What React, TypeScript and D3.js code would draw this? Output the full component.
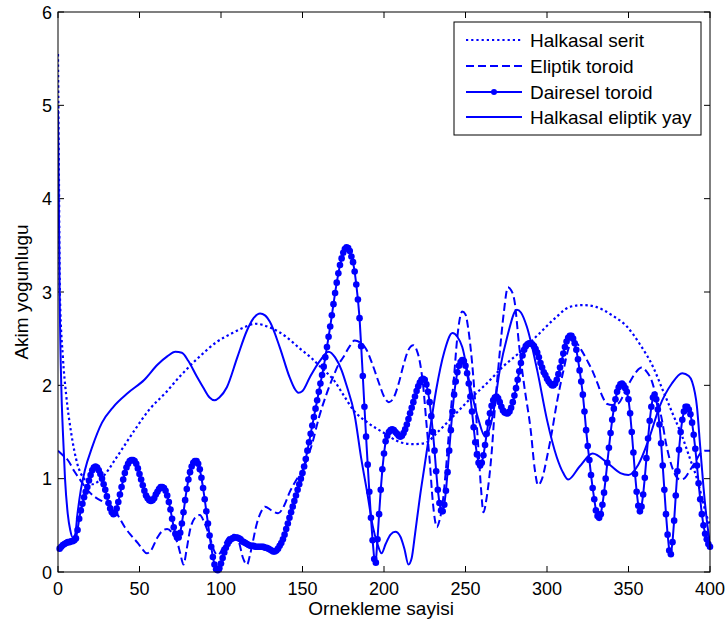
import React from "react";
import * as d3 from "d3";

const WIDTH = 728;
const HEIGHT = 626;
const PLOT = { left: 58, right: 710, top: 12, bottom: 572 };

const xTicks = [0, 50, 100, 150, 200, 250, 300, 350, 400];
const yTicks = [0, 1, 2, 3, 4, 5, 6];
const xLabel = "Ornekleme sayisi";
const yLabel = "Akim yogunlugu";
const seriesNames = ["Halkasal serit", "Eliptik toroid", "Dairesel toroid", "Halkasal eliptik yay"];

// Halkasal serit (dotted) — read key points [sample, value]
const halkasalSerit: [number, number][] = [
  [0, 5.55], [0.5, 4.4], [1.2, 2.95], [3, 2.3], [5, 1.9], [8, 1.5], [12, 1.15], [16, 1.0], [21, 0.94],
  [28, 1.03], [36, 1.23], [47, 1.52], [56, 1.74], [66, 1.92], [75, 2.1], [87, 2.31], [97, 2.46],
  [107, 2.56], [114, 2.62], [121, 2.66], [130, 2.62], [140, 2.52], [148, 2.4], [155, 2.3], [162, 2.18],
  [169, 2.06], [175, 1.9], [181, 1.74], [190, 1.6], [200, 1.49], [210, 1.39], [218, 1.37], [225, 1.38],
  [233, 1.5], [242, 1.66], [252, 1.84], [263, 2.02], [273, 2.2], [283, 2.35], [295, 2.55], [305, 2.72],
  [314, 2.84], [322, 2.86], [330, 2.84], [340, 2.75], [349, 2.63], [357, 2.44], [365, 2.2], [371, 1.95],
  [377, 1.7], [383, 1.45], [388, 1.2], [392, 1.0], [395, 0.8], [398, 0.6], [400, 0.5],
];

// Eliptik toroid (dashed)
const eliptikToroid: [number, number][] = [
  [0, 1.3], [3, 1.25], [6, 1.2], [10, 1.08], [13.5, 0.99], [18, 0.88], [23, 0.8], [28, 0.75], [33, 0.7],
  [37, 0.6], [41, 0.48], [45, 0.39], [49, 0.31], [52, 0.24], [54.5, 0.2], [57, 0.23], [61, 0.37],
  [64, 0.44], [67, 0.46], [70, 0.42], [73.5, 0.3], [75, 0.2], [77, 0.08], [79, 0.25], [81, 0.45],
  [84, 0.58], [87, 0.61], [90, 0.52], [93, 0.38], [96, 0.22], [98, 0.18], [100, 0.22], [102, 0.3],
  [105, 0.38], [108, 0.4], [111, 0.32], [113.5, 0.15], [116, 0.08], [118, 0.2], [122, 0.52], [125, 0.66],
  [127, 0.7], [131, 0.66], [135, 0.63], [139, 0.72], [142, 0.85], [146, 0.98], [150, 1.09], [153, 1.22],
  [156, 1.38], [160, 1.65], [165, 1.92], [169, 2.1], [172, 2.22], [175, 2.3], [179, 2.42], [182, 2.48],
  [186, 2.45], [189, 2.39], [193, 2.22], [197, 2.02], [200, 1.88], [203, 1.82], [206, 1.87], [209, 2.02],
  [212, 2.22], [215, 2.38], [218, 2.43], [220, 2.38], [222, 2.25], [224, 2.0], [226, 1.6], [228, 1.2],
  [230, 0.74], [232.5, 0.48], [234, 0.55], [236, 0.74], [238, 1.1], [240.5, 1.63], [243, 2.1], [245, 2.52],
  [248, 2.79], [250, 2.76], [251.5, 2.63], [254, 2.25], [256, 1.81], [258, 1.3], [259.5, 0.9], [261, 0.64],
  [263, 0.8], [266, 1.27], [268, 1.75], [271, 2.35], [273.5, 2.78], [276, 3.05], [278, 3.02], [280, 2.91],
  [283, 2.41], [286, 2.0], [290, 1.52], [292.5, 1.1], [294.5, 0.93], [297, 1.0], [300, 1.23], [303, 1.5],
  [306, 1.81], [310, 2.15], [314, 2.42], [318, 2.45], [321, 2.38], [324.5, 2.27], [328, 2.15], [331, 2.02],
  [334, 1.88], [337, 1.8], [340, 1.79], [344, 1.81], [347, 1.9], [351, 2.04], [355, 2.15], [358, 2.19],
  [361, 2.15], [364, 2.06], [367, 1.88], [370.5, 1.63], [373, 1.38], [376.6, 1.13], [379, 1.03],
  [381.6, 0.99], [384, 1.0], [387.7, 1.09], [391, 1.18], [394, 1.27], [397, 1.3], [400, 1.3],
];

// Dairesel toroid (line with a marker at each sample, samples 1..400)
const daireselToroid: number[] = [
  0.25, 0.27, 0.29, 0.30, 0.31, 0.32, 0.32, 0.33, 0.33, 0.34,
  0.36, 0.45, 0.57, 0.66, 0.73, 0.80, 0.86, 0.91, 0.98, 1.04,
  1.09, 1.12, 1.13, 1.12, 1.09, 1.05, 1.00, 0.94, 0.88, 0.81,
  0.74, 0.68, 0.64, 0.62, 0.63, 0.68, 0.75, 0.83, 0.91, 0.99,
  1.06, 1.12, 1.16, 1.19, 1.20, 1.20, 1.19, 1.16, 1.11, 1.05,
  0.99, 0.93, 0.87, 0.82, 0.79, 0.77, 0.76, 0.77, 0.79, 0.83,
  0.86, 0.89, 0.91, 0.91, 0.90, 0.87, 0.82, 0.75, 0.67, 0.57,
  0.48, 0.41, 0.37, 0.37, 0.42, 0.52, 0.64, 0.77, 0.89, 0.99,
  1.07, 1.13, 1.17, 1.19, 1.19, 1.16, 1.10, 1.01, 0.90, 0.78,
  0.65, 0.52, 0.39, 0.27, 0.16, 0.08, 0.03, 0.02, 0.04, 0.09,
  0.15, 0.21, 0.26, 0.30, 0.33, 0.35, 0.36, 0.37, 0.37, 0.37,
  0.36, 0.35, 0.33, 0.32, 0.31, 0.30, 0.29, 0.28, 0.28, 0.28,
  0.27, 0.27, 0.27, 0.27, 0.27, 0.27, 0.26, 0.26, 0.25, 0.24,
  0.23, 0.22, 0.22, 0.23, 0.25, 0.28, 0.31, 0.35, 0.40, 0.46,
  0.52, 0.58, 0.64, 0.70, 0.76, 0.82, 0.88, 0.94, 1.00, 1.06,
  1.13, 1.21, 1.30, 1.39, 1.48, 1.57, 1.66, 1.75, 1.84, 1.93,
  2.02, 2.11, 2.20, 2.30, 2.41, 2.52, 2.63, 2.75, 2.87, 2.99,
  3.10, 3.20, 3.29, 3.36, 3.42, 3.46, 3.48, 3.47, 3.44, 3.38,
  3.32, 3.22, 3.08, 2.92, 2.72, 2.42, 2.10, 1.77, 1.45, 1.15,
  0.86, 0.58, 0.34, 0.14, 0.10, 0.35, 0.62, 0.88, 1.10, 1.27,
  1.40, 1.46, 1.50, 1.52, 1.53, 1.52, 1.50, 1.48, 1.46, 1.45,
  1.46, 1.49, 1.53, 1.58, 1.64, 1.70, 1.76, 1.82, 1.88, 1.94,
  1.99, 2.03, 2.06, 2.07, 2.06, 2.01, 1.93, 1.82, 1.67, 1.50,
  1.30, 1.08, 0.88, 0.74, 0.66, 0.65, 0.72, 0.87, 1.07, 1.30,
  1.52, 1.72, 1.90, 2.04, 2.14, 2.21, 2.25, 2.27, 2.26, 2.21,
  2.13, 2.02, 1.88, 1.72, 1.55, 1.39, 1.26, 1.17, 1.14, 1.17,
  1.25, 1.36, 1.48, 1.60, 1.70, 1.78, 1.84, 1.87, 1.88, 1.86,
  1.82, 1.77, 1.73, 1.71, 1.70, 1.70, 1.72, 1.76, 1.82, 1.89,
  1.97, 2.06, 2.15, 2.24, 2.32, 2.38, 2.42, 2.44, 2.45, 2.45,
  2.44, 2.42, 2.39, 2.35, 2.30, 2.24, 2.19, 2.14, 2.11, 2.07,
  2.04, 2.02, 2.00, 2.00, 2.02, 2.06, 2.12, 2.19, 2.26, 2.34,
  2.41, 2.47, 2.51, 2.53, 2.53, 2.50, 2.45, 2.38, 2.28, 2.16,
  2.04, 1.90, 1.72, 1.52, 1.35, 1.20, 1.04, 0.90, 0.78, 0.66,
  0.60, 0.58, 0.62, 0.72, 0.85, 1.00, 1.17, 1.33, 1.49, 1.63,
  1.75, 1.85, 1.93, 1.98, 2.01, 2.02, 2.00, 1.97, 1.93, 1.85,
  1.70, 1.50, 1.28, 1.05, 0.86, 0.71, 0.65, 0.70, 0.83, 1.01,
  1.22, 1.43, 1.62, 1.77, 1.87, 1.90, 1.85, 1.74, 1.58, 1.38,
  1.14, 0.88, 0.62, 0.40, 0.23, 0.19, 0.32, 0.55, 0.82, 1.08,
  1.31, 1.50, 1.63, 1.72, 1.77, 1.77, 1.74, 1.69, 1.60, 1.47,
  1.32, 1.14, 0.95, 0.78, 0.62, 0.50, 0.41, 0.35, 0.30, 0.27,
];

// Halkasal eliptik yay (solid)
const halkasalEliptikYay: [number, number][] = [
  [0, 4.95], [0.5, 4.0], [1, 3.0], [2, 2.0], [3, 1.5], [4.3, 1.0], [6, 0.62], [7.5, 0.45], [9, 0.37],
  [10.5, 0.4], [12, 0.63], [14, 0.88], [16.5, 1.09], [21, 1.34], [27, 1.6], [34, 1.77], [43, 1.92],
  [53, 2.06], [61, 2.22], [67, 2.31], [72, 2.36], [76, 2.35], [80, 2.26], [85, 2.1], [89, 1.98],
  [93, 1.87], [96, 1.84], [99, 1.87], [103.6, 1.98], [110, 2.3], [116, 2.59], [120, 2.72], [124, 2.77],
  [127, 2.75], [130, 2.68], [136, 2.41], [142, 2.09], [145, 1.97], [147.5, 1.92], [150, 1.94],
  [154.6, 2.09], [161, 2.27], [166, 2.36], [170, 2.3], [174, 2.16], [177, 2.0], [182, 1.68], [186, 1.22],
  [190, 0.82], [193, 0.5], [196, 0.3], [198.5, 0.2], [201, 0.3], [204, 0.4], [207, 0.43], [210, 0.38],
  [212.5, 0.25], [215, 0.08], [217, 0.15], [219, 0.4], [222, 0.8], [225, 1.15], [228, 1.5], [232, 1.95],
  [237, 2.36], [242, 2.56], [245, 2.52], [248, 2.41], [253, 1.98], [258, 1.63], [262, 1.45], [267, 1.7],
  [271, 2.16], [275.6, 2.52], [281.5, 2.81], [284, 2.78], [287.6, 2.63], [294, 2.16], [300, 1.63],
  [306, 1.23], [310, 1.06], [313, 0.99], [320, 1.13], [328, 1.27], [337, 1.17], [345, 1.06], [350, 1.04],
  [356, 1.15], [363, 1.45], [369, 1.77], [376.6, 2.02], [383, 2.13], [387, 2.1], [389, 2.04], [392, 1.77],
  [394, 1.34], [396, 0.91], [398, 0.56], [400, 0.3],
];

const BLUE = "#0000ff";
const FONT = "'Liberation Sans', Arial, Helvetica, sans-serif";

export default function App() {
  const x = d3.scaleLinear().domain([0, 400]).range([PLOT.left, PLOT.right]);
  const y = d3.scaleLinear().domain([0, 6]).range([PLOT.bottom, PLOT.top]);

  const smooth = d3
    .line<[number, number]>()
    .x((d) => x(d[0]))
    .y((d) => y(d[1]))
    .curve(d3.curveMonotoneX);

  const dairesel: [number, number][] = daireselToroid.map((v, i) => [i + 1, v]);
  const straight = d3
    .line<[number, number]>()
    .x((d) => x(d[0]))
    .y((d) => y(d[1]));

  const pw = PLOT.right - PLOT.left;
  const ph = PLOT.bottom - PLOT.top;
  const tickLen = 6;

  const legend = { x: 454, y: 22, w: 247, h: 113 };
  const rowY = [40, 66, 92, 117];
  const lx0 = 466;
  const lx1 = 522;

  const styles = [
    { dash: "2.2,3", marker: false },
    { dash: "8,4", marker: false },
    { dash: undefined, marker: true },
    { dash: undefined, marker: false },
  ];

  return (
    <svg
      width={WIDTH}
      height={HEIGHT}
      style={{ position: "absolute", left: 0, top: 0, background: "#fff" }}
      fontFamily={FONT}
    >
      <defs>
        <clipPath id="plotClip">
          <rect x={PLOT.left} y={PLOT.top} width={pw} height={ph} />
        </clipPath>
      </defs>
      <rect x={0} y={0} width={WIDTH} height={HEIGHT} fill="#fff" />
      <rect x={PLOT.left} y={PLOT.top} width={pw} height={ph} fill="#fff" />

      {/* ticks */}
      {xTicks.map((t) => (
        <g key={"xt" + t}>
          <line x1={x(t)} x2={x(t)} y1={PLOT.bottom} y2={PLOT.bottom - tickLen} stroke="#000" strokeWidth={1} />
          <line x1={x(t)} x2={x(t)} y1={PLOT.top} y2={PLOT.top + tickLen} stroke="#000" strokeWidth={1} />
          <text x={x(t)} y={PLOT.bottom + 23} fontSize={18} textAnchor="middle" fill="#000">
            {t}
          </text>
        </g>
      ))}
      {yTicks.map((t) => (
        <g key={"yt" + t}>
          <line x1={PLOT.left} x2={PLOT.left + tickLen} y1={y(t)} y2={y(t)} stroke="#000" strokeWidth={1} />
          <line x1={PLOT.right} x2={PLOT.right - tickLen} y1={y(t)} y2={y(t)} stroke="#000" strokeWidth={1} />
          <text x={PLOT.left - 6} y={y(t) + 6.5} fontSize={18} textAnchor="end" fill="#000">
            {t}
          </text>
        </g>
      ))}

      {/* series */}
      <g clipPath="url(#plotClip)" fill="none" stroke={BLUE} strokeWidth={2}>
        <path d={smooth(halkasalSerit) || ""} strokeDasharray="2.4,2.8" strokeWidth={2.2} />
        <path d={smooth(eliptikToroid) || ""} strokeDasharray="8,4" />
        <path d={straight(dairesel) || ""} strokeLinejoin="round" />
        <path d={smooth(halkasalEliptikYay) || ""} strokeLinejoin="round" />
      </g>
      <g fill={BLUE}>
        {dairesel.map((d, i) => (
          <circle key={"m" + i} cx={x(d[0])} cy={y(d[1])} r={3.3} />
        ))}
      </g>

      {/* axes box */}
      <rect x={PLOT.left} y={PLOT.top} width={pw} height={ph} fill="none" stroke="#000" strokeWidth={1} />

      {/* axis labels */}
      <text x={381} y={615} fontSize={19} textAnchor="middle" fill="#000">
        {xLabel}
      </text>
      <text
        transform={`translate(28,${(PLOT.top + PLOT.bottom) / 2}) rotate(-90)`}
        fontSize={19}
        textAnchor="middle"
        fill="#000"
      >
        {yLabel}
      </text>

      {/* legend */}
      <rect x={legend.x} y={legend.y} width={legend.w} height={legend.h} fill="#fff" stroke="#000" strokeWidth={1} />
      {seriesNames.map((name, i) => (
        <g key={"lg" + i}>
          <line
            x1={lx0}
            x2={lx1}
            y1={rowY[i]}
            y2={rowY[i]}
            stroke={BLUE}
            strokeWidth={2}
            strokeDasharray={styles[i].dash}
          />
          {styles[i].marker && <circle cx={(lx0 + lx1) / 2} cy={rowY[i]} r={3} fill={BLUE} />}
          <text x={530} y={rowY[i] + 6.5} fontSize={19} fill="#000">
            {name}
          </text>
        </g>
      ))}
    </svg>
  );
}
